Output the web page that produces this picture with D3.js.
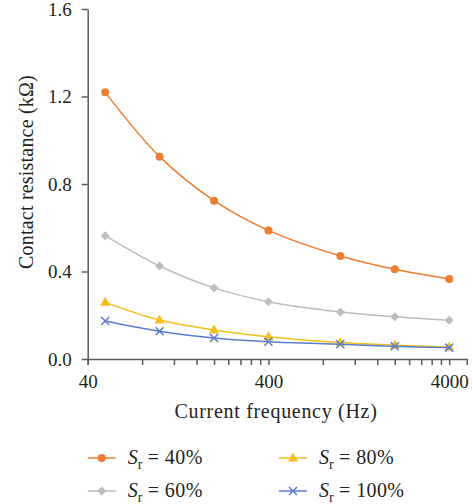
<!DOCTYPE html>
<html>
<head>
<meta charset="utf-8">
<script src="https://cdn.jsdelivr.net/npm/d3@7"></script>
<style>
  html, body { margin: 0; padding: 0; background: #fff; }
  svg { display: block; }
  text { font-family: "Liberation Serif", "Times New Roman", "DejaVu Serif", serif; fill: #231f20; }
</style>
</head>
<body>
<svg id="chart" width="473" height="504"></svg>
<script>
const frequencies = [50, 100, 200, 400, 1000, 2000, 4000];
const sr40  = [1.219, 0.925, 0.724, 0.588, 0.471, 0.410, 0.366];
const sr60  = [0.564, 0.425, 0.325, 0.262, 0.215, 0.193, 0.177];
const sr80  = [0.259, 0.178, 0.133, 0.102, 0.075, 0.063, 0.055];
const sr100 = [0.174, 0.127, 0.096, 0.079, 0.067, 0.058, 0.052];
const seriesNames = ["40%", "60%", "80%", "100%"];
const xMajorTicks = [40, 400, 4000];
const xMinorTicks = [80,120,160,200,240,280,320,360,800,1200,1600,2000,2400,2800,3200,3600];
const yTicks = [0, 0.4, 0.8, 1.2, 1.6];

const series = [
  {name: seriesNames[0], values: sr40,  color: "#ED7D31", marker: "circle"},
  {name: seriesNames[1], values: sr60,  color: "#BDBDBD", marker: "diamond"},
  {name: seriesNames[2], values: sr80,  color: "#F2BE1A", marker: "triangle"},
  {name: seriesNames[3], values: sr100, color: "#5A7BCE", marker: "cross"}
];

const svg = d3.select("#chart");
const axisColor = "#595959";
const x = d3.scaleLog().domain([40, 5000]).range([87.7, 466.7]);
const y = d3.scaleLinear().domain([0, 1.6]).range([359, 9]);

// x axis
const xAxis = svg.append("g").attr("transform", `translate(0,${y(0)})`)
  .call(d3.axisBottom(x).tickValues(xMajorTicks.concat(xMinorTicks))
    .tickFormat(d => xMajorTicks.includes(d) ? d : "").tickSize(6).tickSizeOuter(6));
xAxis.selectAll("path, line").attr("stroke", axisColor).attr("stroke-width", 1.5);
xAxis.selectAll("text").attr("font-size", 19).attr("dy", 0).attr("y", 29)
  .attr("font-family", "Liberation Serif, serif").attr("fill", "#231f20");

// y axis
const yAxis = svg.append("g").attr("transform", `translate(${x(40)},0)`)
  .call(d3.axisLeft(y).tickValues(yTicks).tickFormat(d3.format(".1f")).tickSize(6).tickSizeOuter(0));
yAxis.selectAll("path, line").attr("stroke", axisColor).attr("stroke-width", 1.5);
yAxis.selectAll("text").attr("font-size", 19).attr("x", -16).attr("dy", "0.34em")
  .attr("font-family", "Liberation Serif, serif").attr("fill", "#231f20");

// axis titles
svg.append("text").attr("x", 276).attr("y", 418).attr("text-anchor", "middle")
  .attr("font-size", 20).attr("letter-spacing", 0.7).text("Current frequency (Hz)");
svg.append("text").attr("transform", "translate(33,172) rotate(-90)")
  .attr("text-anchor", "middle").attr("font-size", 20).attr("letter-spacing", 0.2).text("Contact resistance (k\u03A9)");

const line = d3.line().x(d => x(d[0])).y(d => y(d[1])).curve(d3.curveCatmullRom.alpha(0.5));

function drawMarker(g, type, cx, cy, color) {
  if (type === "circle") {
    g.append("circle").attr("cx", cx).attr("cy", cy).attr("r", 4).attr("fill", color);
  } else if (type === "diamond") {
    g.append("path").attr("d", `M${cx},${cy-4.5}L${cx+4.5},${cy}L${cx},${cy+4.5}L${cx-4.5},${cy}Z`).attr("fill", color);
  } else if (type === "triangle") {
    g.append("path").attr("d", `M${cx},${cy-5.5}L${cx+5},${cy+3.5}L${cx-5},${cy+3.5}Z`).attr("fill", color);
  } else {
    g.append("path").attr("d", `M${cx-4},${cy-4}L${cx+4},${cy+4}M${cx-4},${cy+4}L${cx+4},${cy-4}`)
      .attr("stroke", color).attr("stroke-width", 1.5).attr("fill", "none");
  }
}

series.forEach(s => {
  const pts = frequencies.map((f, i) => [f, s.values[i]]);
  const g = svg.append("g");
  g.append("path").attr("d", line(pts)).attr("fill", "none").attr("stroke", s.color).attr("stroke-width", 1.5);
  pts.forEach(p => drawMarker(g, s.marker, x(p[0]), y(p[1]), s.color));
});

// legend
const legendPos = [[87.7, 458], [87.7, 491], [279, 458], [279, 491]];
series.forEach((s, i) => {
  const [lx, ly] = legendPos[i];
  const g = svg.append("g");
  g.append("line").attr("x1", lx).attr("x2", lx + 28).attr("y1", ly).attr("y2", ly)
    .attr("stroke", s.color).attr("stroke-width", 1.5);
  drawMarker(g, s.marker, lx + 14, ly, s.color);
  const t = g.append("text").attr("x", lx + 40).attr("y", ly + 6).attr("font-size", 20);
  t.append("tspan").attr("font-style", "italic").text("S");
  t.append("tspan").attr("font-size", 14).attr("dy", 5).text("r");
  t.append("tspan").attr("dy", -5).attr("letter-spacing", 0.4).text(" = " + s.name);
});
</script>
</body>
</html>
